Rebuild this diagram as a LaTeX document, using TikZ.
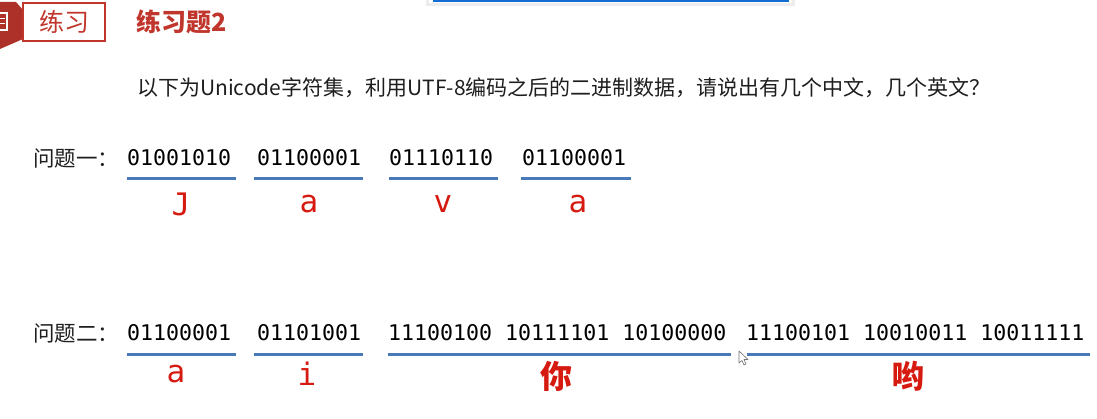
\documentclass[tikz,border=0pt]{standalone}
\usepackage{fontspec}
\setmainfont{Noto Sans CJK SC}
\newfontfamily\cjk{Noto Sans CJK SC}
\newfontfamily\bits{DejaVu Sans Mono}
\usetikzlibrary{positioning}
\definecolor{titlered}{RGB}{192,54,44}
\definecolor{charred}{RGB}{214,26,16}
\definecolor{lineblue}{RGB}{72,122,186}
\definecolor{textdark}{RGB}{30,30,30}
\definecolor{barblue}{RGB}{18,108,212}

\begin{document}
\begin{tikzpicture}[x=1pt, y=-1pt,
    bitsnode/.style={font=\bits\fontsize{21.6}{24}\selectfont, text=black, anchor=west, inner sep=0pt},
    uline/.style={draw=lineblue, line width=3pt},
    charnode/.style={font=\bits\fontsize{31}{34}\selectfont, text=charred, inner sep=0pt},
    hanchar/.style={font=\cjk\bfseries\fontsize{32}{34}\selectfont, text=charred, inner sep=0pt},
    rowlabel/.style={font=\cjk\fontsize{21.5}{24}\selectfont, text=textdark, anchor=west, inner sep=0pt}
]
    \useasboundingbox (0,0) rectangle (1097,419);

    % top window edge
    \fill[black!7] (426,0) rectangle (795,6);
    \fill[white] (429,0) rectangle (792,3);
    \draw[barblue, line width=1.6pt] (433,0.8) -- (789,0.8);

    % badge and tab
    \fill[titlered!90!black] (0,2) -- (16,2) -- (23,10) -- (23,39) -- (0,49) -- cycle;
    \draw[white, line width=1.3pt] (-2,13) -- (7,13) -- (7,30) -- (-2,30);
    \draw[white, line width=1pt] (0,19) -- (5,19) (0,24) -- (5,24);
    \draw[titlered, line width=1.2pt] (23,3) rectangle (105,41);
    \node[font=\cjk\fontsize{25}{27}\selectfont, text=titlered, inner sep=0pt] (tab) at (64,22) {练习};
    \node[font=\cjk\bfseries\fontsize{25}{27}\selectfont, text=titlered, anchor=west, inner sep=0pt] (title) at (136,22) {练习题2};

    \node[font=\cjk\fontsize{21}{24}\selectfont, text=textdark, anchor=west, inner sep=0pt] (question) at (137,88)
        {以下为Unicode字符集，利用UTF-8编码之后的二进制数据，请说出有几个中文，几个英文？};

    % row one
    \node[rowlabel] (label1) at (33,158) {问题一：};
    \node[bitsnode] (b11) at (127,158) {01001010};
    \node[bitsnode] (b12) at (257,158) {01100001};
    \node[bitsnode] (b13) at (389,158) {01110110};
    \node[bitsnode] (b14) at (522,158) {01100001};

    \draw[uline] (127,179) -- (236,179);
    \draw[uline] (254,179) -- (363,179);
    \draw[uline] (389,179) -- (498,179);
    \draw[uline] (521,179) -- (631,179);

    \node[charnode] (c11) at (181,204) {J};
    \node[charnode] (c12) at (309,204) {a};
    \node[charnode] (c13) at (443,204) {v};
    \node[charnode] (c14) at (578,204) {a};

    % row two
    \node[rowlabel] (label2) at (33,333) {问题二：};
    \node[bitsnode] (b21) at (127,333) {01100001};
    \node[bitsnode] (b22) at (257,333) {01101001};
    \node[bitsnode] (b23) at (388,333) {11100100 10111101 10100000};
    \node[bitsnode] (b24) at (746,333) {11100101 10010011 10011111};

    \draw[uline] (127,354) -- (236,354);
    \draw[uline] (254,354) -- (363,354);
    \draw[uline] (388,354) -- (731,354);
    \draw[uline] (747,354) -- (1090,354);

    \node[charnode] (c21) at (176,374) {a};
    \node[charnode] (c22) at (307,374) {i};
    \node[hanchar] (c23) at (556,376) {你};
    \node[hanchar] (c24) at (908,376) {哟};

    % mouse pointer
    \draw[black!55, fill=white, line width=0.6pt, line join=round]
        (739,351) -- (739,363) -- (742,360.5) -- (744,365) -- (746,364) -- (744,359.5) -- (748,359.5) -- cycle;
\end{tikzpicture}
\end{document}
